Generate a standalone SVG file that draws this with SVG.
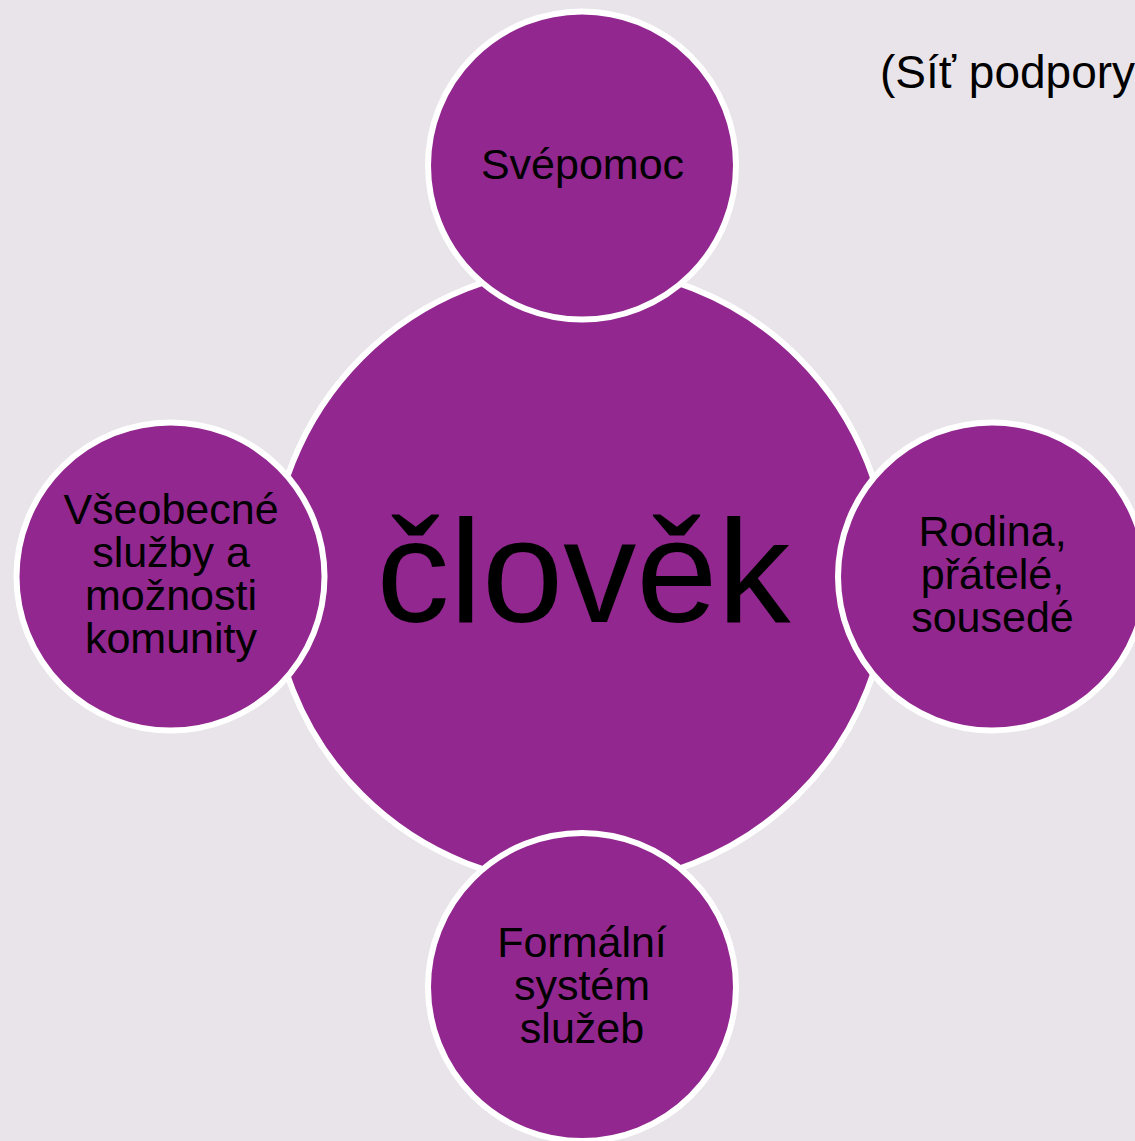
<svg xmlns="http://www.w3.org/2000/svg" width="1135" height="1141" viewBox="0 0 1135 1141">
<style>
.n{fill:#92278F;stroke:#FFFFFF;stroke-width:6}
.t{font-family:"Liberation Sans",Arial,sans-serif;fill:#000;text-anchor:middle}
.s{font-size:43px}
</style>
<rect x="0" y="0" width="1135" height="1141" fill="#E9E4EA"/>
<g id="connectors"></g>
<g id="node-clovek">
<circle class="n" cx="580" cy="576" r="309"/>
<text class="t" x="583.5" y="622" font-size="146">člověk</text>
</g>
<g id="node-svepomoc">
<circle class="n" cx="582" cy="165.5" r="154"/>
<text class="t s" x="582.5" y="179">Svépomoc</text>
</g>
<g id="node-rodina">
<circle class="n" cx="992" cy="576.5" r="154"/>
<text class="t s" x="992.5"><tspan x="992.5" y="546">Rodina,</tspan><tspan x="992.5" y="589">přátelé,</tspan><tspan x="992.5" y="632">sousedé</tspan></text>
</g>
<g id="node-vseobecne">
<circle class="n" cx="170.5" cy="576.5" r="154"/>
<text class="t s" x="171"><tspan x="171" y="524">Všeobecné</tspan><tspan x="171" y="567">služby a</tspan><tspan x="171" y="610">možnosti</tspan><tspan x="171" y="653">komunity</tspan></text>
</g>
<g id="node-formalni">
<circle class="n" cx="582" cy="987" r="154"/>
<text class="t s" x="582"><tspan x="582" y="957">Formální</tspan><tspan x="582" y="1000">systém</tspan><tspan x="582" y="1043">služeb</tspan></text>
</g>
<text id="title" x="880" y="88" font-family="'Liberation Sans',Arial,sans-serif" font-size="46" fill="#000">(Síť podpory)</text>
</svg>
